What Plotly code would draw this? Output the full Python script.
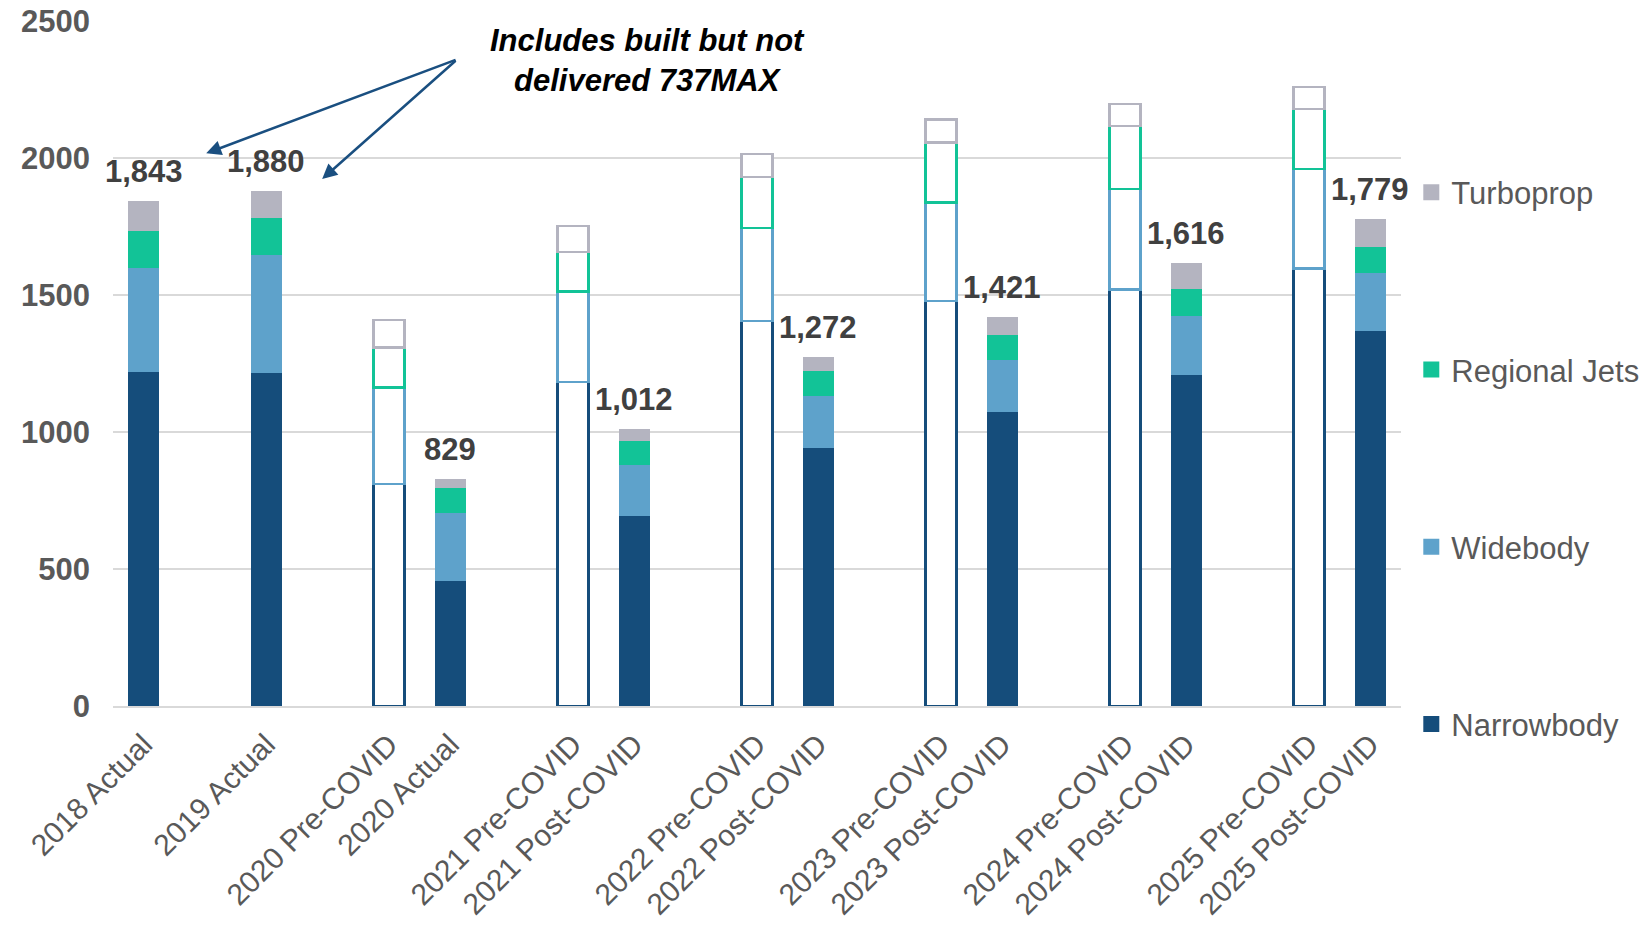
import plotly.graph_objects as go

# Aircraft deliveries by segment
categories = [
    "2018 Actual", "2019 Actual",
    "2020 Pre-COVID", "2020 Actual",
    "2021 Pre-COVID", "2021 Post-COVID",
    "2022 Pre-COVID", "2022 Post-COVID",
    "2023 Pre-COVID", "2023 Post-COVID",
    "2024 Pre-COVID", "2024 Post-COVID",
    "2025 Pre-COVID", "2025 Post-COVID",
]
narrowbody = [1220, 1216, 811, 457, 1183, 694, 1405, 942, 1478, 1073, 1520, 1208, 1596, 1368]
widebody = [377, 429, 352, 246, 329, 184, 339, 190, 359, 190, 367, 217, 363, 211]
regional_jets = [136, 135, 146, 92, 145, 89, 187, 90, 220, 90, 229, 98, 219, 97]
turboprop = [110, 100, 100, 34, 94, 45, 84, 50, 83, 68, 81, 93, 82, 103]

y_ticks = [0, 500, 1000, 1500, 2000, 2500]
note_text = "Includes built but not<br>delivered 737MAX"

series = [
    ("Narrowbody", narrowbody, "#154d7b"),
    ("Widebody", widebody, "#5ea2cb"),
    ("Regional Jets", regional_jets, "#12c397"),
    ("Turboprop", turboprop, "#b4b4c0"),
]

FONT = "Arial, 'Liberation Sans', sans-serif"

# slot positions: bars of the same year sit side by side, one empty slot between years
slots = []
pos = 0
prev_year = None
for c in categories:
    year = c.split()[0]
    if prev_year is not None:
        pos += 2 if year != prev_year else 1
    slots.append(pos)
    prev_year = year

is_pre = ["Pre-COVID" in c for c in categories]
solid_idx = [i for i, p in enumerate(is_pre) if not p]
pre_idx = [i for i, p in enumerate(is_pre) if p]

fig = go.Figure()
n_series = len(series)
for k, (name, vals, color) in enumerate(series):
    fig.add_trace(go.Bar(
        x=[slots[i] for i in solid_idx],
        y=[vals[i] for i in solid_idx],
        name=name, legendgroup=name, showlegend=False,
        marker=dict(color=color, line=dict(width=0)),
        width=0.5,
    ))
    fig.add_trace(go.Bar(
        x=[slots[i] for i in pre_idx],
        y=[vals[i] for i in pre_idx],
        name=name, legendgroup=name, showlegend=False,
        marker=dict(color="white", line=dict(color=color, width=2.5)),
        width=0.5,
    ))
    # square legend swatch, top-most series listed first
    fig.add_trace(go.Scatter(
        x=[None], y=[None], mode="markers", name=name, legendgroup=name,
        legendrank=n_series - k,
        marker=dict(symbol="square", size=16, color=color),
    ))

# total labels above the solid bars
totals = [sum(v) for v in zip(narrowbody, widebody, regional_jets, turboprop)]
for i in solid_idx:
    fig.add_annotation(
        x=slots[i], y=totals[i], text=f"{totals[i]:,}",
        showarrow=False, yanchor="bottom", yshift=10,
        font=dict(family=FONT, size=31, color="#404040", weight="bold"),
    )

# callout with two arrows
fig.add_annotation(
    x=8.22, y=2355, text=f"<b><i>{note_text}</i></b>",
    showarrow=False, xanchor="center", yanchor="middle",
    font=dict(family=FONT, size=31, color="#000000"),
)
for tx, ty in [(1.02, 2017), (2.91, 1923)]:
    fig.add_annotation(
        x=tx, y=ty, ax=5.11, ay=2360, axref="x", ayref="y",
        text="", showarrow=True, arrowhead=2, arrowsize=1.2,
        arrowwidth=2.5, arrowcolor="#1a4f80",
    )

fig.update_layout(
    width=1647, height=925,
    barmode="stack",
    plot_bgcolor="white", paper_bgcolor="white",
    margin=dict(l=113, r=246, t=21, b=219, autoexpand=False),
    font=dict(family=FONT, color="#595959"),
    showlegend=True,
    legend=dict(
        x=1.008, y=0.789, xanchor="left", yanchor="top",
        traceorder="grouped", tracegroupgap=134,
        font=dict(family=FONT, size=31, color="#595959"),
        itemwidth=30, itemsizing="trace",
    ),
    xaxis=dict(
        range=[-0.5, 20.5],
        tickmode="array", tickvals=slots, ticktext=categories,
        tickangle=-45, tickfont=dict(size=30, color="#595959"),
        showgrid=False, zeroline=False,
        showline=True, linecolor="#d9d9d9", linewidth=2,
        ticks="", ticklabelstandoff=7, automargin=False,
    ),
    yaxis=dict(
        range=[0, 2500], tickmode="array", tickvals=y_ticks,
        tickfont=dict(size=31, color="#595959", weight="bold"),
        showgrid=True, gridcolor="#d9d9d9", gridwidth=2,
        zeroline=False, showline=False, ticks="",
        ticklabelstandoff=22, automargin=False,
    ),
)

fig.write_html("out.html")
